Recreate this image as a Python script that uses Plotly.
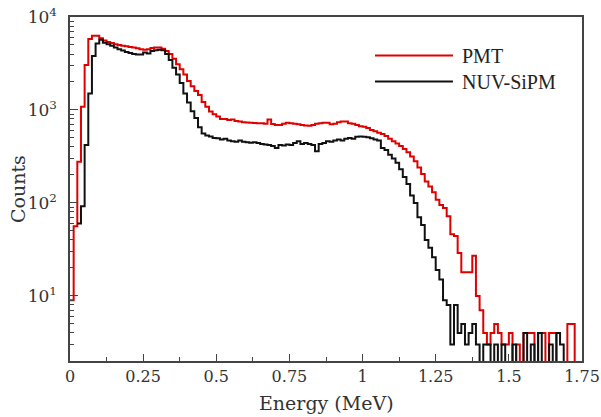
import numpy as np
import plotly.graph_objects as go

# ---- data ----
bin_width = 0.0125
bin_edges = np.round(np.arange(0, 1.75 + bin_width / 2, bin_width), 5)

pmt_counts = [
    9, 56, 278, 1085, 3050, 5800, 6300, 6300, 5900, 5600,
    5400, 5250, 5100, 5000, 4900, 4850, 4750, 4700, 4600, 4500,
    4450, 4500, 4650, 4700, 4700, 4550, 4300, 4000, 3550, 3100,
    2750, 2400, 2050, 1800, 1600, 1450, 1220, 1080, 960, 900,
    850, 800, 800, 780, 790, 760, 750, 740, 735, 730,
    725, 720, 720, 710, 790, 705, 690, 690, 710, 730,
    720, 710, 700, 690, 680, 675, 690, 710, 720, 730,
    730, 700, 710, 740, 750, 750, 720, 710, 690, 670,
    660, 640, 610, 590, 570, 550, 525, 490, 460, 435,
    410, 380, 350, 315, 280, 240, 205, 170, 150, 130,
    108, 95, 88, 72, 46, 44, 29, 18, 18, 18,
    27, 10, 7, 4, 3, 4, 5, 4, 3, 3,
    4, 1, 3, 1, 4, 4, 4, 1, 4, 4,
    1, 4, 4, 1, 1, 1, 5, 5, 1, 1,
]

sipm_counts = [
    None, None, 60, 92, 420, 1500, 3800, 5200, 5700, 5300,
    5100, 4900, 4700, 4500, 4350, 4200, 4100, 4000, 3950, 3950,
    4150, 4050, 4300, 4400, 4450, 4400, 4000, 3450, 2850, 2400,
    1950, 1500, 1200, 970, 820, 650, 560, 530, 520, 500,
    495, 480, 490, 470, 460, 455, 470, 455, 450, 445,
    450, 440, 430, 425, 420, 410, 390, 420, 415, 425,
    420, 440, 460, 430, 440, 430, 420, 360, 430, 440,
    460, 455, 470, 480, 470, 490, 500, 490, 515, 520,
    515, 510, 495, 480, 470, 390, 370, 330, 300, 270,
    230, 190, 160, 120, 100, 70, 58, 40, 33, 26,
    19, 15, 9, 8, 3, 8, 4, 5, 3, 4,
    5, 3, 1, 3, 3, 1, 3, 1, 3, 1,
    1, 3, 1, 1, 4, 1, 3, 1, 4, 1,
    1, 3, 1, 4, 3, 1, 1, 1, 1, 1,
]

series_names = ["PMT", "NUV-SiPM"]
series_colors = ["#e00000", "#111111"]

x_tickvals = [0, 0.25, 0.5, 0.75, 1.0, 1.25, 1.5, 1.75]
x_ticktext = ["0", "0.25", "0.5", "0.75", "1", "1.25", "1.5", "1.75"]
y_tickvals = [10, 100, 1000, 10000]
y_ticktext = ["10<sup>1</sup>", "10<sup>2</sup>", "10<sup>3</sup>", "10<sup>4</sup>"]
x_title = "Energy (MeV)"
y_title = "Counts"

# ---- figure ----
SERIF = "DejaVu Serif"
fig = go.Figure()
for name, counts, color in zip(series_names, [pmt_counts, sipm_counts], series_colors):
    y = list(counts) + [counts[-1]]
    fig.add_trace(go.Scatter(
        x=bin_edges, y=y, mode="lines", name=name,
        line=dict(color=color, width=2, shape="hv"),
        showlegend=False, connectgaps=False,
    ))

minor_y = [m * 10 ** k for k in range(0, 4) for m in range(2, 10) if m * 10 ** k >= 2.1]

axis_color = "#444444"
fig.update_xaxes(
    range=[0, 1.75], showline=True, linecolor=axis_color, linewidth=1.5, mirror=True,
    automargin=False,
    ticks="inside", ticklen=7, tickwidth=1.3, tickcolor=axis_color,
    tickvals=x_tickvals, ticktext=x_ticktext, showgrid=False, zeroline=False,
    tickfont=dict(family=SERIF, size=16, color="#333333"),
    minor=dict(dtick=0.125, tick0=0, ticks="inside", ticklen=4, tickwidth=1.3, tickcolor=axis_color),
)
fig.update_yaxes(
    type="log", range=[0.3, 4], showline=True, linecolor=axis_color, linewidth=1.5, mirror=True,
    automargin=False,
    ticks="inside", ticklen=8, tickwidth=1.3, tickcolor=axis_color,
    tickvals=y_tickvals, ticktext=y_ticktext, showgrid=False, zeroline=False,
    tickfont=dict(family=SERIF, size=17, color="#333333"), ticklabelstandoff=8,
    minor=dict(tickmode="array", tickvals=minor_y, ticks="inside", ticklen=4, tickwidth=1.3, tickcolor=axis_color),
)

# axis titles
fig.add_annotation(xref="paper", yref="paper", x=0.5, y=-0.122, text=x_title, showarrow=False,
                   xanchor="center", yanchor="middle",
                   font=dict(family=SERIF, size=19, color="#333333"))
fig.add_annotation(xref="paper", yref="paper", x=-0.1016, y=0.5, text=y_title, showarrow=False,
                   textangle=-90, xanchor="center", yanchor="middle",
                   font=dict(family=SERIF, size=19, color="#333333"))

# manual legend (long sample lines as in the original)
legend_rows = [(0.888, series_names[0], series_colors[0]), (0.8125, series_names[1], series_colors[1])]
for ypos, name, color in legend_rows:
    fig.add_shape(type="line", xref="paper", yref="paper", x0=0.5957, x1=0.748, y0=ypos, y1=ypos,
                  line=dict(color=color, width=2))
    fig.add_annotation(xref="paper", yref="paper", x=0.7617, y=ypos, text=name, showarrow=False,
                       xanchor="left", yanchor="middle",
                       font=dict(family="Liberation Serif", size=20, color="#222222"))

fig.update_layout(
    width=601, height=417, margin=dict(l=70, r=19, t=17, b=56),
    paper_bgcolor="white", plot_bgcolor="white",
)
fig.write_html("out.html")
